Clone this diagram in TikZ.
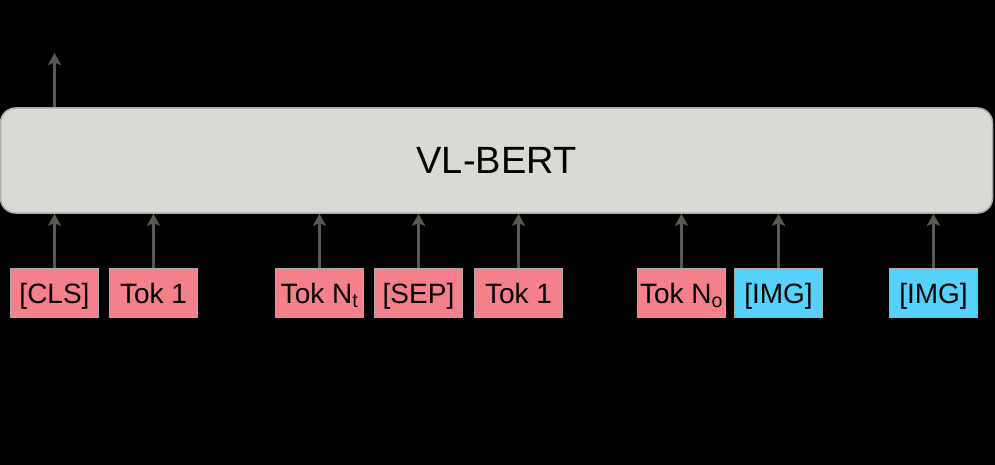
\documentclass[tikz,border=0pt]{standalone}
\usepackage{fontspec}
\setmainfont{Liberation Sans}
\usetikzlibrary{arrows.meta}

\definecolor{tokpink}{RGB}{244,128,140}
\definecolor{imgcyan}{RGB}{86,210,250}
\definecolor{bertgray}{RGB}{217,217,213}
\definecolor{edgegray}{RGB}{170,170,166}
\definecolor{arrowgray}{RGB}{89,89,84}

\tikzset{
  tokbox/.style={draw=edgegray, line width=1.5pt, fill=tokpink, minimum width=88pt, minimum height=49pt, inner sep=0pt, text height=21pt, text depth=0pt, font=\fontsize{28}{32}\selectfont},
  imgbox/.style={tokbox, fill=imgcyan},
  feed/.style={draw=arrowgray, line width=2.4pt, -{Stealth[length=12pt,width=13pt,inset=2.5pt]}}
}

\begin{document}
\begin{tikzpicture}[x=1pt,y=1pt,yscale=-1,xscale=1]
%set diagram to the reference size
\fill[black] (0,0) rectangle (995,465);
\useasboundingbox (0,0) rectangle (995,465);

%Shape: Rounded Rect
\node (bert) [draw=edgegray, line width=1.5pt, fill=bertgray, rounded corners=15pt, minimum width=992pt, minimum height=105pt, inner sep=0pt, font=\fontsize{38}{42}\selectfont] at (496.5,160.5) {VL-BERT};

% Text Node
\node (cls) [tokbox] at (54.5,293) {[CLS]};
% Text Node
\node (tok1) [tokbox] at (153.5,293) {Tok 1};
% Text Node
\node (tokNt) [tokbox] at (319.5,293) {Tok N\textsubscript{t}};
% Text Node
\node (sep) [tokbox] at (418.5,293) {[SEP]};
% Text Node
\node (tokb1) [tokbox] at (518.5,293) {Tok 1};
% Text Node
\node (tokNo) [tokbox] at (681.5,293) {Tok N\textsubscript{o}};
% Text Node
\node (img1) [imgbox] at (778.5,293) {[IMG]};
% Text Node
\node (img2) [imgbox] at (933.5,293) {[IMG]};

%Straight Lines
\foreach \t in {cls,tok1,tokNt,sep,tokb1,tokNo,img1,img2}
  \draw [feed] (\t.north) -- (\t.north |- bert.south);

%Straight Lines
\coordinate (out) at (54.5,53);
\draw [feed] (cls.north |- bert.north) -- (out);

\end{tikzpicture}
\end{document}
